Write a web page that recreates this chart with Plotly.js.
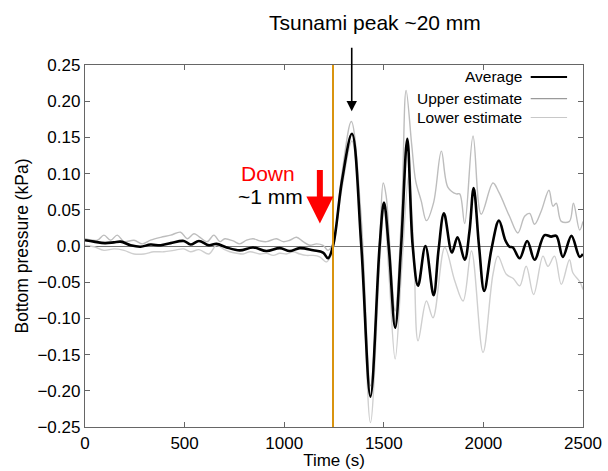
<!DOCTYPE html>
<html>
<head>
<meta charset="utf-8">
<script src="https://cdn.plot.ly/plotly-3.0.1.min.js"></script>
<style>html,body{margin:0;padding:0;background:#fff;}#chart{width:608px;height:471px;}</style>
</head>
<body>
<div id="chart"></div>
<script>
// ---- Data ----
var avgTime = [0,45,100,145,179,229,279,329,380,430,496,530,572,622,660,711,777,844,911,978,1028,1078,1145,1195,1220,1245,1290,1340,1387,1433,1479,1501,1526,1557,1587,1618,1645,1672,1709,1750,1775,1802,1842,1870,1906,1930,1951,1978,2004,2040,2078,2110,2131,2148,2182,2220,2257,2307,2340,2366,2399,2442,2483,2500];
var avgValue = [0.008,0.006,0.004,0.005,0.006,0.001,-0.001,0.002,0.001,0.004,0.007,0.002,0.007,0.001,0.003,-0.002,-0.006,-0.002,-0.007,-0.003,-0.007,-0.003,-0.006,-0.009,-0.017,0.0,0.09,0.155,0.0,-0.208,0.0,0.060,-0.005,-0.113,0.0,0.148,0.0,-0.055,0.0,-0.068,-0.005,0.045,-0.009,0.012,-0.019,0.02,0.080,0.0,-0.062,-0.005,0.035,0.008,-0.001,-0.002,-0.017,0.007,-0.019,0.015,0.013,0.014,-0.015,0.014,-0.015,-0.011];

var upperTime = [0,62,95,129,162,196,246,288,329,380,430,480,513,547,572,613,647,677,702,744,777,811,844,878,911,961,995,1028,1062,1095,1128,1162,1195,1220,1245,1290,1337,1385,1433,1480,1497,1512,1530,1557,1590,1612,1640,1660,1688,1714,1750,1789,1822,1864,1881,1906,1948,1989,2048,2078,2131,2173,2207,2232,2257,2290,2329,2349,2366,2391,2432,2452,2483,2500];
var upperValue = [0.010,0.008,0.015,0.008,0.015,0.006,0.008,0.003,0.008,0.012,0.015,0.019,0.010,0.017,0.013,0.006,0.015,0.006,0.010,0.007,0.003,0.008,0.010,0.007,0.006,0.010,0.006,0.008,0.012,0.006,0.001,0.003,0.001,-0.006,0.005,0.10,0.172,0.045,-0.193,0.01,0.087,0.069,0.0,-0.09,0.05,0.215,0.14,0.09,0.062,0.035,0.06,0.131,0.081,0.072,0.072,0.031,0.152,0.044,0.087,0.074,0.041,0.018,0.041,0.045,0.03,0.048,0.077,0.055,0.059,0.034,0.034,0.059,0.022,0.034];

var lowerTime = [0,45,95,146,196,246,296,346,396,446,496,530,572,622,660,694,727,761,794,828,878,911,945,978,1011,1045,1078,1111,1145,1178,1212,1232,1245,1290,1340,1385,1433,1480,1501,1526,1557,1590,1625,1650,1672,1714,1747,1806,1856,1898,1940,1998,2048,2073,2115,2150,2182,2215,2252,2299,2324,2357,2391,2432,2449,2483,2500];
var lowerValue = [0.001,-0.001,-0.006,-0.004,-0.006,-0.011,-0.011,-0.008,-0.008,-0.006,-0.004,-0.008,-0.005,-0.011,0.001,-0.004,-0.008,-0.010,-0.011,-0.008,-0.011,-0.010,-0.013,-0.010,-0.011,-0.008,-0.011,-0.013,-0.013,-0.015,-0.022,-0.015,-0.005,0.08,0.145,0.02,-0.244,-0.02,0.05,-0.04,-0.156,-0.03,0.097,0.0,-0.131,-0.076,-0.099,-0.002,-0.048,-0.076,-0.007,-0.147,-0.039,-0.014,-0.039,-0.045,-0.055,-0.028,-0.067,-0.014,-0.028,-0.014,-0.053,-0.019,-0.037,-0.049,-0.06];

var xTickVals = [0,500,1000,1500,2000,2500];
var xTickText = ["0","500","1000","1500","2000","2500"];
var yTickVals = [0.25,0.20,0.15,0.10,0.05,0.0,-0.05,-0.10,-0.15,-0.20,-0.25];
var yTickText = ["0.25","0.20","0.15","0.10","0.05","0.0","\u22120.05","\u22120.10","\u22120.15","\u22120.20","\u22120.25"];
var seriesNames = ["Average","Upper estimate","Lower estimate"];
var eventTime = 1245;

var FONT = "Liberation Sans, Arial, Helvetica, sans-serif";
var cAvg = "#000000", cUp = "#bdbdbd", cLo = "#cfcfcf";

var traces = [
  {x: lowerTime, y: lowerValue, mode: "lines", name: seriesNames[2], line: {color: cLo, width: 1.4, shape: "spline", smoothing: 1}, showlegend: false, hoverinfo: "skip"},
  {x: upperTime, y: upperValue, mode: "lines", name: seriesNames[1], line: {color: cUp, width: 1.4, shape: "spline", smoothing: 1}, showlegend: false, hoverinfo: "skip"},
  {x: avgTime, y: avgValue, mode: "lines", name: seriesNames[0], line: {color: cAvg, width: 2.6, shape: "spline", smoothing: 1}, showlegend: false}
];

// manual legend (text left of line sample)
var legY = [0.967, 0.907, 0.855];
var legColors = ["#000000", "#9a9a9a", "#c8c8c8"];
var legWidths = [2, 1.2, 1.2];
var annotations = [];
var shapes = [
  {type: "line", xref: "x", yref: "paper", x0: eventTime, x1: eventTime, y0: 0, y1: 1, line: {color: "#d9940f", width: 2}}
];
for (var i = 0; i < 3; i++) {
  annotations.push({xref: "paper", yref: "paper", x: 0.882, y: legY[i], xanchor: "right", yanchor: "middle", text: seriesNames[i], showarrow: false, font: {family: FONT, size: 15.5, color: "#000"}});
  shapes.push({type: "line", xref: "paper", yref: "paper", x0: 0.895, x1: 0.968, y0: legY[i], y1: legY[i], line: {color: legColors[i], width: legWidths[i]}});
}
// Tsunami peak label + arrow
annotations.push({xref: "x", yref: "paper", x: 1455, y: 1.0, yshift: 43, xanchor: "center", yanchor: "middle", text: "Tsunami peak ~20 mm", showarrow: false, font: {family: FONT, size: 21, color: "#000"}});
annotations.push({xref: "x", yref: "y", x: 1339, y: 0.186, text: " ", showarrow: true, arrowhead: 2, arrowsize: 1.3, arrowwidth: 1.6, arrowcolor: "#000", ax: 0, ay: -72, standoff: 0, startstandoff: 0});
// Down ~1 mm
annotations.push({xref: "x", yref: "y", x: 918, y: 0.100, text: "Down", showarrow: false, font: {family: FONT, size: 21, color: "#ff0000"}});
annotations.push({xref: "x", yref: "y", x: 933, y: 0.068, text: "~1 mm", showarrow: false, font: {family: FONT, size: 21, color: "#000"}});
annotations.push({xref: "x", yref: "y", x: 1179, y: 0.031, text: " ", showarrow: true, arrowhead: 2, arrowsize: 0.9, arrowwidth: 6, arrowcolor: "#ff0000", ax: 0, ay: -62, standoff: 0, startstandoff: 0});

var axisCommon = {showgrid: false, showline: true, linecolor: "#666", linewidth: 1.2, mirror: "ticks", ticks: "inside", ticklen: 5, tickcolor: "#666", tickfont: {family: FONT, size: 17, color: "#000"}};

var layout = {
  width: 608, height: 471,
  margin: {l: 85, r: 25, t: 65, b: 44},
  paper_bgcolor: "#fff", plot_bgcolor: "#fff",
  showlegend: false,
  font: {family: FONT},
  xaxis: Object.assign({}, axisCommon, {range: [0, 2500], tickvals: xTickVals, ticktext: xTickText, zeroline: false, title: {text: "Time (s)", font: {family: FONT, size: 17, color: "#000"}, standoff: 2}}),
  yaxis: Object.assign({}, axisCommon, {range: [-0.25, 0.25], tickvals: yTickVals, ticktext: yTickText, zeroline: true, zerolinecolor: "#777", zerolinewidth: 1, title: {text: "Bottom pressure (kPa)", font: {family: FONT, size: 17.5, color: "#000"}, standoff: 4}}),
  annotations: annotations,
  shapes: shapes
};

Plotly.newPlot("chart", traces, layout, {displayModeBar: false, staticPlot: true});
</script>
</body>
</html>
